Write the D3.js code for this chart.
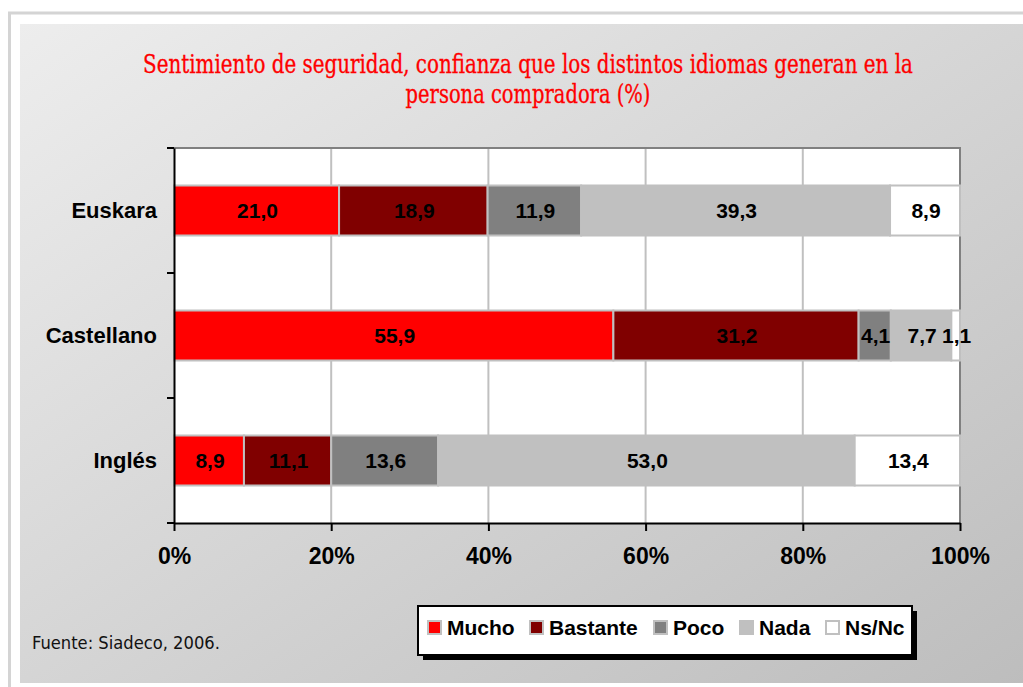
<!DOCTYPE html>
<html><head><meta charset="utf-8">
<script src="https://cdn.jsdelivr.net/npm/d3@7"></script>
<style>body{margin:0;background:#fff}svg{display:block}</style>
</head><body>
<svg id="c" width="1023" height="687"></svg>
<script>
const categories = ["Euskara", "Castellano", "Inglés"];
const seriesNames = ["Mucho", "Bastante", "Poco", "Nada", "Ns/Nc"];
const mucho    = [21.0, 55.9, 8.9];
const bastante = [18.9, 31.2, 11.1];
const poco     = [11.9, 4.1, 13.6];
const nada     = [39.3, 7.7, 53.0];
const nsnc     = [8.9, 1.1, 13.4];
const xTicks = [0, 20, 40, 60, 80, 100];
const titleLines = ["Sentimiento de seguridad, confianza que los distintos idiomas generan en la", "persona compradora (%)"];
const source = "Fuente: Siadeco, 2006.";
const colors = ["#ff0000", "#800000", "#808080", "#c0c0c0", "#ffffff"];

const seriesValues = [mucho, bastante, poco, nada, nsnc];
const rows = categories.map((c, i) => {
  const r = {cat: c};
  seriesNames.forEach((s, j) => r[s] = seriesValues[j][i]);
  return r;
});

const svg = d3.select("#c");
const defs = svg.append("defs");
const g = defs.append("linearGradient").attr("id", "bg").attr("x1", "0").attr("y1", "0").attr("x2", "1").attr("y2", "1");
g.append("stop").attr("offset", "0").attr("stop-color", "#ededed");
g.append("stop").attr("offset", "1").attr("stop-color", "#bdbdbd");

// outer frame
svg.append("rect").attr("x", 9.5).attr("y", 13).attr("width", 1030).attr("height", 700)
  .attr("fill", "#fff").attr("stroke", "#d4d4d4").attr("stroke-width", 3);
svg.append("rect").attr("x", 20).attr("y", 24).attr("width", 1010).attr("height", 659).attr("fill", "url(#bg)");

// fitted text helper: scale horizontally to a target width
function fitText(parent, str, cx, y, w, font, size, fill, anchor, extra) {
  const gg = parent.append("g");
  const t = gg.append("text").attr("x", 0).attr("y", 0).attr("text-anchor", anchor)
    .attr("font-family", font).attr("font-stretch", "condensed").attr("font-size", size).attr("fill", fill).text(str);
  if (extra) extra(t);
  const nat = t.node().getComputedTextLength();
  gg.attr("transform", `translate(${cx},${y}) scale(${w / nat},1)`);
  return gg;
}

// title
const titleFont = "'DejaVu Serif Condensed', 'DejaVu Serif', serif";
const redStroke = t => t.attr("stroke", "#ff0000").attr("stroke-width", 0.3);
fitText(svg, titleLines[0], 528, 73, 770, titleFont, 25.5, "#ff0000", "middle", redStroke);
fitText(svg, titleLines[1], 528, 103, 245, titleFont, 25.5, "#ff0000", "middle", redStroke);

const x = d3.scaleLinear().domain([0, 100]).range([174, 960]);
const yBand = d3.scaleBand().domain(categories).range([148, 523]).padding(0);
const yBar = d3.scaleBand().domain(categories).range([148, 523]).paddingInner(0.6).paddingOuter(0.3);

// plot area
svg.append("rect").attr("x", x(0)).attr("y", 148).attr("width", x(100) - x(0)).attr("height", 523 - 148).attr("fill", "#fff");
// gridlines
svg.append("g").selectAll("line").data(xTicks.filter(t => t > 0 && t < 100)).join("line")
  .attr("x1", d => x(d)).attr("x2", d => x(d)).attr("y1", 148).attr("y2", 523)
  .attr("stroke", "#c0c0c0").attr("stroke-width", 2);
// top/right border
svg.append("path").attr("d", `M${x(0)},148H${x(100)}V523`).attr("fill", "none").attr("stroke", "#808080").attr("stroke-width", 2);

// bars
const stack = d3.stack().keys(seriesNames)(rows);
const layers = svg.append("g").selectAll("g").data(stack).join("g").attr("fill", (d, i) => colors[i]);
layers.selectAll("rect").data(d => d.map(v => ({v, key: d.key}))).join("rect")
  .attr("x", d => x(d.v[0])).attr("width", d => x(d.v[1]) - x(d.v[0]))
  .attr("y", d => yBar(d.v.data.cat)).attr("height", yBar.bandwidth())
  .attr("stroke", "#c0c0c0").attr("stroke-width", 2);
// labels
const fmt = v => v.toFixed(1).replace(".", ",");
svg.append("g").selectAll("g").data(stack).join("g").selectAll("text")
  .data(d => d.map(v => v)).join("text")
  .attr("x", d => (x(d[0]) + x(d[1])) / 2 + 1)
  .attr("y", d => yBar(d.data.cat) + yBar.bandwidth() / 2)
  .attr("dy", "0.36em").attr("text-anchor", "middle")
  .attr("font-family", "Liberation Sans, Arial").attr("font-weight", "bold").attr("font-size", 21)
  .attr("fill", "#000").text(d => fmt(d[1] - d[0]));

// axes
const yAxis = d3.axisLeft(yBand).tickSize(0).tickPadding(17);
const ya = svg.append("g").attr("transform", `translate(${x(0)},0)`).call(yAxis);
ya.select(".domain").attr("stroke", "#000").attr("stroke-width", 2);
ya.selectAll("text").attr("font-family", "Liberation Sans, Arial").attr("font-weight", "bold").attr("font-size", 22).attr("fill", "#000");
// category boundary ticks
const bounds = categories.map(c => yBand(c)).concat([523]);
svg.append("g").selectAll("line").data(bounds).join("line")
  .attr("x1", x(0) - 7).attr("x2", x(0)).attr("y1", d => d).attr("y2", d => d)
  .attr("stroke", "#000").attr("stroke-width", 2);

const xAxis = d3.axisBottom(x).tickValues(xTicks).tickFormat(d => d + "%").tickSize(8).tickSizeOuter(0).tickPadding(17);
const xa = svg.append("g").attr("transform", "translate(0,523)").call(xAxis);
xa.select(".domain").attr("stroke", "#000").attr("stroke-width", 2);
xa.selectAll(".tick line").attr("stroke", "#000").attr("stroke-width", 2);
xa.selectAll("text").attr("font-family", "Liberation Sans, Arial").attr("font-weight", "bold").attr("font-size", 23).attr("fill", "#000");

// legend
const lg = svg.append("g");
lg.append("rect").attr("x", 423).attr("y", 611).attr("width", 494).attr("height", 49).attr("fill", "#000");
lg.append("rect").attr("x", 418).attr("y", 606).attr("width", 494).attr("height", 49).attr("fill", "#fff").attr("stroke", "#000").attr("stroke-width", 2);
const legX = [428, 530, 654, 740, 826];
const items = lg.selectAll("g.it").data(seriesNames).join("g").attr("class", "it")
  .attr("transform", (d, i) => `translate(${legX[i]},621)`);
items.append("rect").attr("width", 13).attr("height", 13).attr("fill", (d, i) => colors[i]).attr("stroke", "#c0c0c0").attr("stroke-width", 2);
items.append("text").attr("x", 19).attr("y", 6.5).attr("dy", "0.36em")
  .attr("font-family", "Liberation Sans, Arial").attr("font-weight", "bold").attr("font-size", 21).attr("fill", "#000").text(d => d);

// source
fitText(svg, source, 32, 649, 188, "'DejaVu Sans Condensed', 'DejaVu Sans', sans-serif", 18, "#111", "start");
</script>
</body></html>
